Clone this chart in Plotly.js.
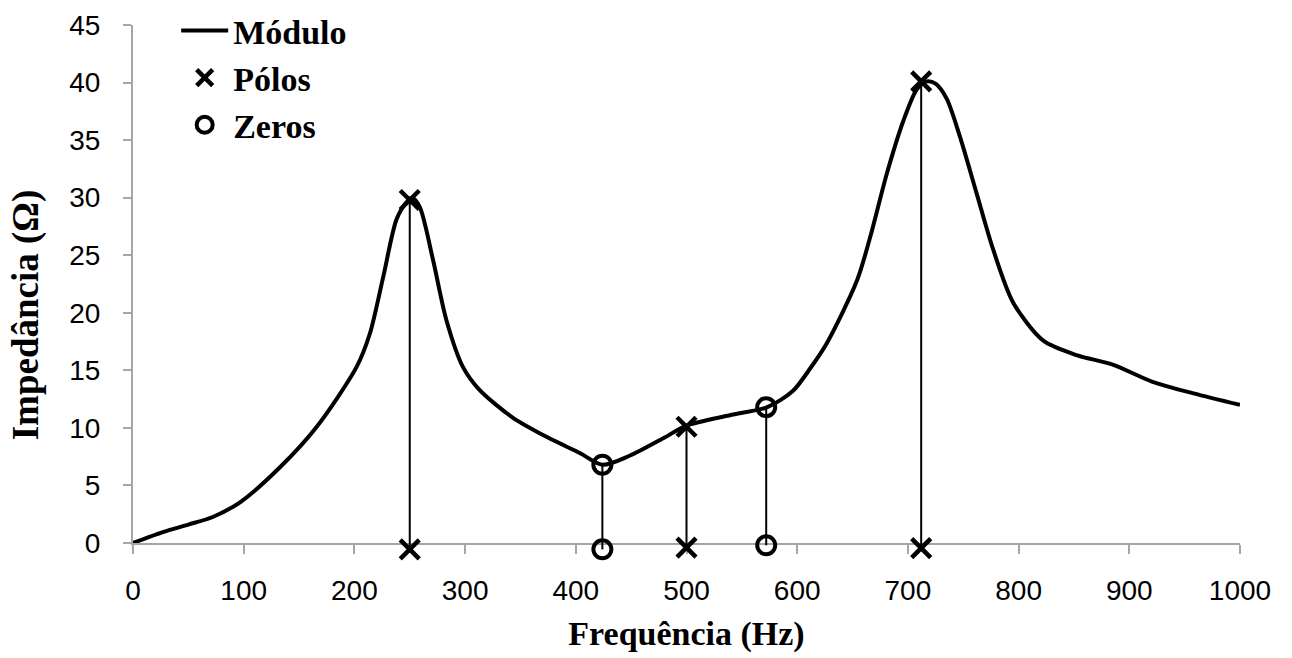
<!DOCTYPE html>
<html>
<head>
<meta charset="utf-8">
<script src="https://cdn.plot.ly/plotly-3.0.1.min.js"></script>
<style>html,body{margin:0;padding:0;background:#fff;}#chart{width:1292px;height:658px;}</style>
</head>
<body>
<div id="chart"></div>
<script>
// Impedance magnitude curve
const freq = [0, 27, 50, 72, 97, 133, 166, 202, 214, 226, 238, 247, 252, 259, 271, 283, 298, 313, 343, 374, 404, 424, 449, 479, 500, 539, 573, 596, 612, 627, 654, 666, 681, 696, 708, 717, 725, 735, 747, 762, 777, 795, 822, 853, 885, 921, 958, 1000];
const modulo = [0, 0.95, 1.6, 2.26, 3.56, 6.6, 10.1, 15.3, 18.2, 23.1, 28.1, 29.6, 30.0, 29.2, 24.6, 19.4, 15.3, 13.3, 10.9, 9.2, 7.8, 6.8, 7.6, 9.1, 10.2, 11.1, 11.8, 13.2, 15.2, 17.4, 22.8, 26.6, 32.1, 36.7, 39.4, 40.1, 39.9, 38.6, 35.3, 30.4, 25.5, 20.9, 17.6, 16.3, 15.5, 14.0, 13.0, 12.0];

// Poles
const poleFreq = [250, 500, 712];
const poleTop = [29.8, 10.1, 40.1];
const poleBase = [-0.55, -0.4, -0.45];

// Zeros
const zeroFreq = [424, 572];
const zeroTop = [6.8, 11.8];
const zeroBase = [-0.55, -0.2];

const xTicks = [0, 100, 200, 300, 400, 500, 600, 700, 800, 900, 1000];
const yTicks = [0, 5, 10, 15, 20, 25, 30, 35, 40, 45];

// vertical connector lines
const vx = [], vy = [];
poleFreq.forEach((f, i) => { vx.push(f, f, null); vy.push(poleBase[i], poleTop[i], null); });
zeroFreq.forEach((f, i) => { vx.push(f, f, null); vy.push(zeroBase[i], zeroTop[i], null); });

const serif = 'Liberation Serif, Times New Roman, serif';
const sans = 'Liberation Sans, Arial, sans-serif';

// geometry: plot area from 25 to 605 px; main y axis bottom (value 0) at 543 px
const H = 658, T = 25, B = 53;
const plotH = H - T - B;            // 580
const zeroPx = 543;
const d0 = (H - B - zeroPx) / plotH; // main y domain start
const yMax = 45;
const unitPx = (zeroPx - T) / yMax;
const y2Min = -(H - B - zeroPx) / unitPx;

const traces = [
  {x: vx, y: vy, yaxis: 'y2', mode: 'lines', line: {color: '#000', width: 2}, showlegend: false, hoverinfo: 'skip'},
  {x: freq, y: modulo, mode: 'lines', name: 'Módulo', line: {color: '#000', width: 4, shape: 'spline', smoothing: 0.8}},
  {x: poleFreq.concat(poleFreq), y: poleTop.concat(poleBase), yaxis: 'y2', mode: 'markers', name: 'Pólos',
   marker: {symbol: 'x-thin-open', size: 19, color: '#000', line: {color: '#000', width: 4.5}}},
  {x: zeroFreq.concat(zeroFreq), y: zeroTop.concat(zeroBase), yaxis: 'y2', mode: 'markers', name: 'Zeros',
   marker: {symbol: 'circle-open', size: 18, color: '#000', line: {color: '#000', width: 4}}}
];

const layout = {
  width: 1292, height: H,
  margin: {l: 133, r: 52, t: T, b: B, autoexpand: false},
  paper_bgcolor: '#fff', plot_bgcolor: 'rgba(0,0,0,0)',
  showlegend: true,
  legend: {x: 0.039, y: 1.04, xanchor: 'left', yanchor: 'top', bgcolor: 'rgba(0,0,0,0)',
           font: {family: serif, size: 34, color: '#000', weight: 'bold'}, itemwidth: 47, tracegroupgap: 0},
  xaxis: {
    range: [0, 1000], tickvals: xTicks, ticktext: xTicks.map(String), anchor: 'y',
    showgrid: false, zeroline: false, showline: true, linecolor: '#a6a6a6', linewidth: 2,
    ticks: 'outside', ticklen: 9, tickwidth: 2, tickcolor: '#a6a6a6', ticklabelstandoff: 12,
    tickfont: {family: sans, size: 28, color: '#000'},
    title: {text: 'Frequência (Hz)', font: {family: serif, size: 34, color: '#000', weight: 'bold'}, standoff: 17}
  },
  yaxis: {
    domain: [d0, 1], range: [0, yMax], tickvals: yTicks, ticktext: yTicks.map(String),
    showgrid: false, zeroline: false, showline: true, linecolor: '#a6a6a6', linewidth: 2,
    ticks: 'outside', ticklen: 8, tickwidth: 2, tickcolor: '#a6a6a6', ticklabelstandoff: 17,
    tickfont: {family: sans, size: 28, color: '#000'}
  },
  yaxis2: {
    domain: [0, 1], range: [y2Min, yMax], anchor: 'x',
    showgrid: false, zeroline: false, showline: false, ticks: '', showticklabels: false,
    title: {text: 'Impedância (Ω)', font: {family: serif, size: 37, color: '#000', weight: 'bold'}, standoff: 82}
  }
};

Plotly.newPlot('chart', traces, layout, {displayModeBar: false, staticPlot: true});
</script>
</body>
</html>
